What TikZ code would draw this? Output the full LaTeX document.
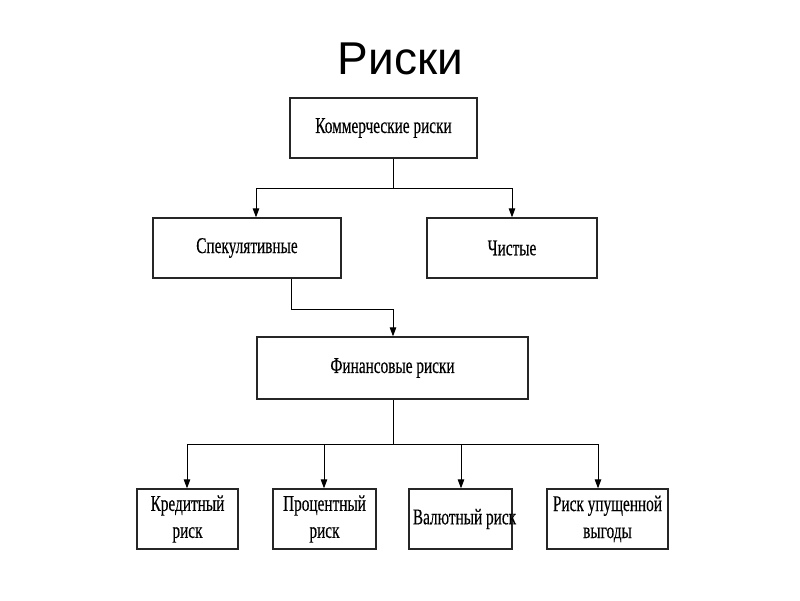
\documentclass[tikz,border=0pt]{standalone}
\usepackage{fontspec}
\usetikzlibrary{arrows.meta}
\newfontfamily\condserif[FakeStretch=0.68,FakeBold=0.3]{Liberation Serif}
\newfontfamily\titlesans{Liberation Sans}
\begin{document}
\begin{tikzpicture}[x=1pt,y=-1pt,
  box/.style={draw=black!85, line width=1.3pt, rectangle, inner sep=0pt, align=center,
    font=\condserif\fontsize{22.5}{27}\selectfont},
  link/.style={draw=black, line width=1pt},
  arr/.style={link, -{Triangle[length=9pt,width=6.5pt]}}]
\useasboundingbox[fill=white] (0,0) rectangle (800,600);
\node[anchor=base, font=\titlesans\fontsize{46}{50}\selectfont] (title) at (400.5,74) {Риски};
\node[box, minimum width=187pt, minimum height=60pt] (k) at (383.5,128) {Коммерческие риски};
\node[box, minimum width=188pt, minimum height=60pt] (s) at (247,248) {Спекулятивные};
\node[box, minimum width=170pt, minimum height=60pt] (c) at (512,248) {Чистые};
\node[box, minimum width=271pt, minimum height=62pt] (f) at (392.5,368) {Финансовые риски};
\node[box, minimum width=101pt, minimum height=60pt] (b1) at (187.5,519) {Кредитный\\риск};
\node[box, minimum width=103pt, minimum height=60pt] (b2) at (324.5,519) {Процентный\\риск};
\node[box, minimum width=103pt, minimum height=60pt] (b3) at (460.5,519) {\makebox[90pt][c]{\hspace*{8pt}Валютный риск}};
\node[box, minimum width=121pt, minimum height=60pt] (b4) at (607.5,519) {Риск упущенной\\выгоды};
% level 1
\coordinate (j1) at (393,188);
\coordinate (aS) at (256,188);
\coordinate (aC) at (512,188);
\draw[link] (j1 |- k.south) -- (j1);
\draw[arr] (j1) -- (aS) -- (aS |- s.north);
\draw[arr] (j1) -- (aC) -- (aC |- c.north);
% spec -> fin
\coordinate (sd) at (291,309);
\coordinate (fd) at (393,309);
\draw[arr] (sd |- s.south) -- (sd) -- (fd) -- (fd |- f.north);
% fin -> bottom
\coordinate (j2) at (393,444);
\coordinate (a1) at (187,444);
\coordinate (a2) at (324,444);
\coordinate (a3) at (461,444);
\coordinate (a4) at (598,444);
\draw[link] (j2 |- f.south) -- (j2);
\draw[arr] (j2) -- (a1) -- (a1 |- b1.north);
\draw[arr] (a2) -- (a2 |- b2.north);
\draw[arr] (j2) -- (a4) -- (a4 |- b4.north);
\draw[arr] (a3) -- (a3 |- b3.north);
\end{tikzpicture}
\end{document}
